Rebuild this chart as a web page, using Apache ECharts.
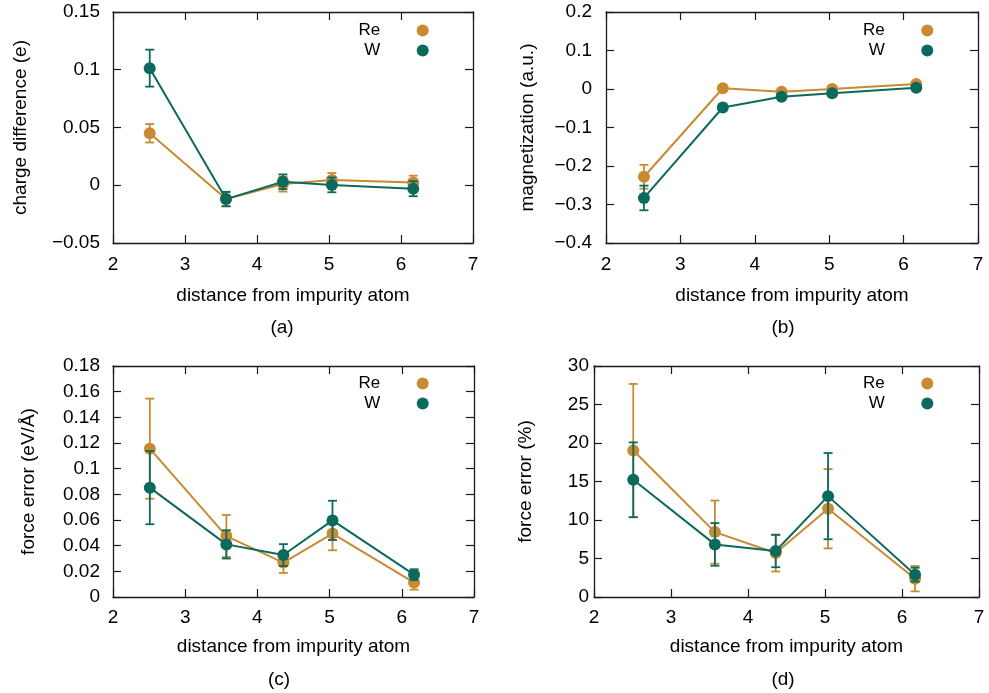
<!DOCTYPE html>
<html>
<head>
<meta charset="utf-8">
<script src="https://cdn.jsdelivr.net/npm/echarts@6/dist/echarts.min.js"></script>
<style>
  html, body { margin: 0; padding: 0; background: #ffffff; }
  #chart { width: 989px; height: 693px; }
</style>
</head>
<body>
<div id="chart"></div>
<script>
// Neighbour-shell distances from the impurity atom
const distance = [2.51, 3.57, 4.36, 5.04, 6.17];
const xTicks = [2, 3, 4, 5, 6, 7];

// (a) charge difference (e)
const chargeTicks = [-0.05, 0, 0.05, 0.1, 0.15];
const chargeRe = [0.045, -0.012, 0.001, 0.0046, 0.0023];
const chargeReErr = [0.008, 0.006, 0.0065, 0.006, 0.006];
const chargeW = [0.1014, -0.012, 0.003, 0.0003, -0.003];
const chargeWErr = [0.016, 0.0063, 0.0064, 0.0064, 0.0065];

// (b) magnetization (a.u.)
const magTicks = [-0.4, -0.3, -0.2, -0.1, 0, 0.1, 0.2];
const magRe = [-0.228, 0.002, -0.007, 0.0, 0.013];
const magReErr = [0.031, 0.004, 0.003, 0.003, 0.003];
const magW = [-0.283, -0.048, -0.020, -0.011, 0.003];
const magWErr = [0.032, 0.005, 0.004, 0.003, 0.003];

// (c) force error (eV/Å)
const forceTicks = [0, 0.02, 0.04, 0.06, 0.08, 0.1, 0.12, 0.14, 0.16, 0.18];
const forceRe = [0.1156, 0.0475, 0.0268, 0.0494, 0.0112];
const forceReErr = [0.039, 0.0164, 0.008, 0.013, 0.0055];
const forceW = [0.0852, 0.041, 0.0327, 0.0597, 0.0174];
const forceWErr = [0.0285, 0.011, 0.0085, 0.0153, 0.0042];

// (d) force error (%)
const pctTicks = [0, 5, 10, 15, 20, 25, 30];
const pctRe = [19.02, 8.43, 5.71, 11.46, 2.38];
const pctReErr = [8.65, 4.1, 2.4, 5.15, 1.65];
const pctW = [15.22, 6.83, 5.97, 13.1, 2.9];
const pctWErr = [4.86, 2.77, 2.1, 5.6, 0.9];

const seriesNames = ['Re', 'W'];
const COLORS = { Re: '#c98a31', W: '#0c6a5d' };
const FONT = 'Liberation Sans, Arial, sans-serif';
const AXIS_COLOR = '#1a1a1a';

const panels = [
  { tag: '(a)', yName: 'charge difference (e)', ticks: chargeTicks,
    re: chargeRe, reErr: chargeReErr, w: chargeW, wErr: chargeWErr,
    grid: { left: 113, top: 12, width: 360, height: 231 },
    yNameGap: 83, yLabelMargin: 13, xLabelMargin: 12, xNameGap: 43,
    tagPos: [282, 328], legend: { right: 989 - 428.7, top: 22 } },
  { tag: '(b)', yName: 'magnetization (a.u.)', ticks: magTicks,
    re: magRe, reErr: magReErr, w: magW, wErr: magWErr,
    grid: { left: 606, top: 12, width: 372, height: 231 },
    yNameGap: 69, yLabelMargin: 14, xLabelMargin: 12, xNameGap: 43,
    tagPos: [783, 328], legend: { right: 989 - 933.3, top: 22 } },
  { tag: '(c)', yName: 'force error (eV/Å)', ticks: forceTicks,
    re: forceRe, reErr: forceReErr, w: forceW, wErr: forceWErr,
    grid: { left: 113, top: 366, width: 361, height: 231 },
    yNameGap: 75, yLabelMargin: 13, xLabelMargin: 11, xNameGap: 40,
    tagPos: [279, 680], legend: { right: 989 - 428.7, top: 375 } },
  { tag: '(d)', yName: 'force error (%)', ticks: pctTicks,
    re: pctRe, reErr: pctReErr, w: pctW, wErr: pctWErr,
    grid: { left: 594, top: 366, width: 385, height: 231 },
    yNameGap: 59, yLabelMargin: 5, xLabelMargin: 11, xNameGap: 40,
    tagPos: [783, 680], legend: { right: 989 - 933.3, top: 375 } }
];

function minusSign(v) {
  return String(v).replace('-', '\u2212');
}

function errorBarItem(params, api) {
  const x = api.value(0);
  const lo = api.coord([x, api.value(1)]);
  const hi = api.coord([x, api.value(2)]);
  const half = 4.5;
  const style = { stroke: api.visual('color'), lineWidth: 1.8, fill: null };
  return {
    type: 'group',
    children: [
      { type: 'line', shape: { x1: lo[0], y1: lo[1], x2: hi[0], y2: hi[1] }, style: style },
      { type: 'line', shape: { x1: lo[0] - half, y1: lo[1], x2: lo[0] + half, y2: lo[1] }, style: style },
      { type: 'line', shape: { x1: hi[0] - half, y1: hi[1], x2: hi[0] + half, y2: hi[1] }, style: style }
    ]
  };
}

const grid = [], xAxis = [], yAxis = [], series = [], legend = [], graphic = [];

panels.forEach(function (p, i) {
  grid.push(Object.assign({ containLabel: false }, p.grid));

  const xMin = xTicks[0], xMax = xTicks[xTicks.length - 1];
  const xInt = xTicks[1] - xTicks[0];
  const yMin = p.ticks[0], yMax = p.ticks[p.ticks.length - 1];
  const yInt = +(p.ticks[1] - p.ticks[0]).toFixed(6);

  const lineStyle = { color: AXIS_COLOR, width: 1.3 };
  const tick = { show: true, inside: true, length: 8, lineStyle: { color: AXIS_COLOR, width: 1.2 } };

  // bottom and top x axes (the top one mirrors the tick marks)
  xAxis.push({
    type: 'value', gridIndex: i, min: xMin, max: xMax, interval: xInt, position: 'bottom',
    axisLine: { show: true, onZero: false, lineStyle: lineStyle }, axisTick: tick,
    splitLine: { show: false },
    axisLabel: { color: '#000', fontSize: 19, fontFamily: FONT, margin: p.xLabelMargin },
    name: 'distance from impurity atom', nameLocation: 'middle', nameGap: p.xNameGap,
    nameTextStyle: { color: '#000', fontSize: 19, fontFamily: FONT }
  });
  xAxis.push({
    type: 'value', gridIndex: i, min: xMin, max: xMax, interval: xInt, position: 'top',
    axisLine: { show: true, onZero: false, lineStyle: lineStyle }, axisTick: tick,
    splitLine: { show: false }, axisLabel: { show: false }
  });
  // left and right y axes
  yAxis.push({
    type: 'value', gridIndex: i, min: yMin, max: yMax, interval: yInt, position: 'left',
    axisLine: { show: true, onZero: false, lineStyle: lineStyle }, axisTick: tick,
    splitLine: { show: false },
    axisLabel: { color: '#000', fontSize: 19, fontFamily: FONT, margin: p.yLabelMargin, formatter: minusSign },
    name: p.yName, nameLocation: 'middle', nameGap: p.yNameGap,
    nameTextStyle: { color: '#000', fontSize: 19, fontFamily: FONT }
  });
  yAxis.push({
    type: 'value', gridIndex: i, min: yMin, max: yMax, interval: yInt, position: 'right',
    axisLine: { show: true, onZero: false, lineStyle: lineStyle }, axisTick: tick,
    splitLine: { show: false }, axisLabel: { show: false }
  });

  const sets = [
    { name: 'Re', vals: p.re, errs: p.reErr },
    { name: 'W', vals: p.w, errs: p.wErr }
  ];
  sets.forEach(function (s, k) {
    const color = COLORS[s.name];
    series.push({
      name: s.name + ' error', type: 'custom', xAxisIndex: 2 * i, yAxisIndex: 2 * i,
      z: 2 + 2 * k, itemStyle: { color: color }, renderItem: errorBarItem,
      encode: { x: 0, y: [1, 2] }, silent: true,
      data: distance.map(function (d, j) { return [d, s.vals[j] - s.errs[j], s.vals[j] + s.errs[j]]; })
    });
    series.push({
      name: s.name, type: 'line', xAxisIndex: 2 * i, yAxisIndex: 2 * i,
      z: 3 + 2 * k, symbol: 'circle', symbolSize: 12, showSymbol: true,
      itemStyle: { color: color }, lineStyle: { color: color, width: 2 },
      emphasis: { disabled: true }, animation: false,
      data: distance.map(function (d, j) { return [d, s.vals[j]]; })
    });
  });

  legend.push({
    data: seriesNames, orient: 'vertical', align: 'right',
    right: p.legend.right, top: p.legend.top, padding: 0, itemGap: 3,
    itemWidth: 75, itemHeight: 12, icon: 'circle', selectedMode: false,
    textStyle: { color: '#000', fontSize: 17, fontFamily: FONT, lineHeight: 17 }
  });

  graphic.push({
    type: 'text', x: p.tagPos[0], y: p.tagPos[1],
    style: { text: p.tag, fill: '#000', font: '19px ' + FONT, align: 'center', verticalAlign: 'middle' }
  });
});

const chart = echarts.init(document.getElementById('chart'), null, { renderer: 'canvas' });
chart.setOption({
  animation: false,
  backgroundColor: '#ffffff',
  textStyle: { fontFamily: FONT },
  grid: grid, xAxis: xAxis, yAxis: yAxis, series: series, legend: legend, graphic: graphic
});
</script>
</body>
</html>
